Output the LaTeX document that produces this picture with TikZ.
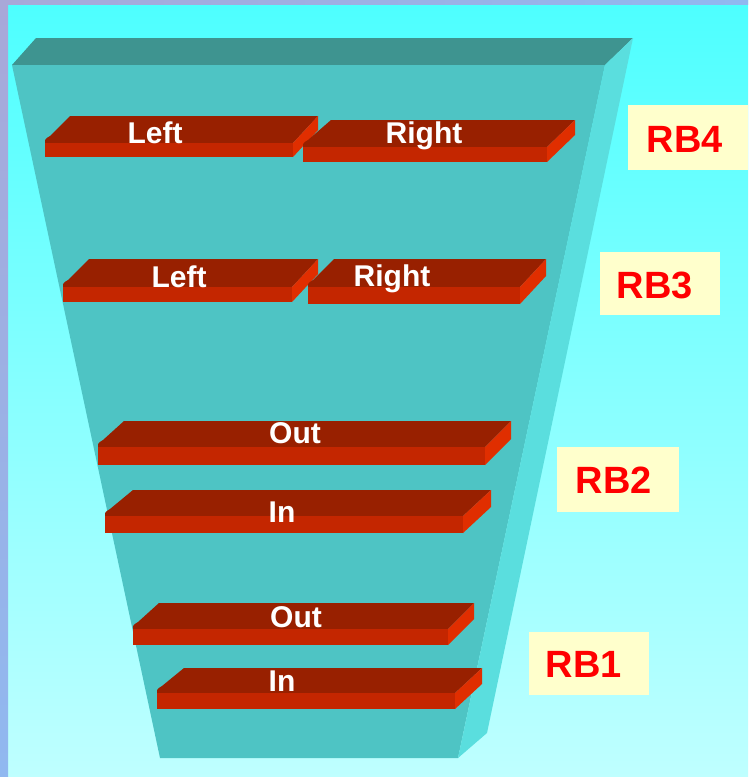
\documentclass[tikz,border=0pt]{standalone}
\usepackage{fontspec}
\setmainfont{Liberation Sans}
\definecolor{skyTop}{HTML}{4DFFFF}
\definecolor{skyBot}{HTML}{BFFFFF}
\definecolor{frameTop}{HTML}{A8A8D8}
\definecolor{frameBot}{HTML}{90B8F0}
\definecolor{funnelTop}{HTML}{3E9490}
\definecolor{funnelFront}{HTML}{4EC4C4}
\definecolor{funnelSide}{HTML}{5ADEDE}
\definecolor{slabTopC}{HTML}{982000}
\definecolor{slabFrontC}{HTML}{C42600}
\definecolor{slabSideC}{HTML}{E02E00}
\definecolor{tagFill}{HTML}{FFFFCC}
\definecolor{tagText}{HTML}{FF0000}
\tikzset{
  slabtext/.style={anchor=base, text=white, inner sep=0pt,
    font=\fontsize{30}{32}\selectfont\bfseries},
  tagbox/.style={fill=tagFill, inner sep=0pt, anchor=north west},
  tagtext/.style={anchor=base, text=tagText, inner sep=0pt,
    font=\fontsize{38}{40}\selectfont\bfseries},
}
% \slab{x1}{x2}{front top}{front bottom}{depth}{dx}
% the front-left corner of the top face is softened slightly
\newcommand\slab[6]{%
  \fill[slabTopC] (#1,#3) .. controls (#1,#3-4) .. (#1+5,#3-7)
    -- (#1+#6,#3-#5) -- (#2+#6,#3-#5) -- (#2,#3) -- cycle;
  \fill[slabFrontC] (#1,#3) rectangle (#2,#4);
  \fill[slabSideC] (#2,#3) -- (#2+#6,#3-#5) -- (#2+#6,#4-#5) -- (#2,#4) -- cycle;
}
\begin{document}
\begin{tikzpicture}[x=1pt,y=-1pt]
\useasboundingbox (0,0) rectangle (748,777);
% backdrop and frame
\shade[top color=skyTop, bottom color=skyBot] (0,0) rectangle (748,777);
\shade[top color=frameTop, bottom color=frameBot] (0,0) rectangle (8,777);
\shade[left color=frameTop, right color=frameBot] (0,0) rectangle (748,4);
% funnel
\fill[funnelTop] (36,38) -- (633,38) -- (605,65) -- (12,65) -- cycle;
\fill[funnelFront] (12,65) -- (605,65) -- (458,758) -- (160,758) -- cycle;
\fill[funnelSide] (605,65) -- (633,38) -- (487,733) -- (458,758) -- cycle;
% RB4
\slab{45}{293}{143}{157}{27}{25}
\slab{303}{547}{147}{162}{27}{28}
\node[slabtext] (rb4l) at (155,143) {Left};
\node[slabtext] (rb4r) at (424,143) {Right};
% RB3
\slab{63}{292}{287}{302}{28}{26}
\slab{308}{520}{287}{304}{28}{26}
\node[slabtext] (rb3l) at (179,287) {Left};
\node[slabtext] (rb3r) at (392,286) {Right};
% RB2
\slab{98}{485}{447}{465}{26}{26}
\slab{105}{463}{516}{533}{26}{28}
\node[slabtext] (rb2o) at (295,443) {Out};
\node[slabtext] (rb2i) at (282,522) {In};
% RB1
\slab{133}{448}{629}{645}{26}{26}
\slab{157}{455}{693}{709}{25}{27}
\node[slabtext] (rb1o) at (296,627) {Out};
\node[slabtext] (rb1i) at (282,691) {In};
% level tags
\node[tagbox, minimum width=120pt, minimum height=65pt] (tag4) at (628,105) {};
\node[tagtext] (lab4) at (685,152) {RB4};
\node[tagbox, minimum width=120pt, minimum height=63pt] (tag3) at (600,252) {};
\node[tagtext] (lab3) at (655,298) {RB3};
\node[tagbox, minimum width=122pt, minimum height=65pt] (tag2) at (557,447) {};
\node[tagtext] (lab2) at (614,493) {RB2};
\node[tagbox, minimum width=120pt, minimum height=63pt] (tag1) at (529,632) {};
\node[tagtext] (lab1) at (584,677) {RB1};
\end{tikzpicture}
\end{document}
